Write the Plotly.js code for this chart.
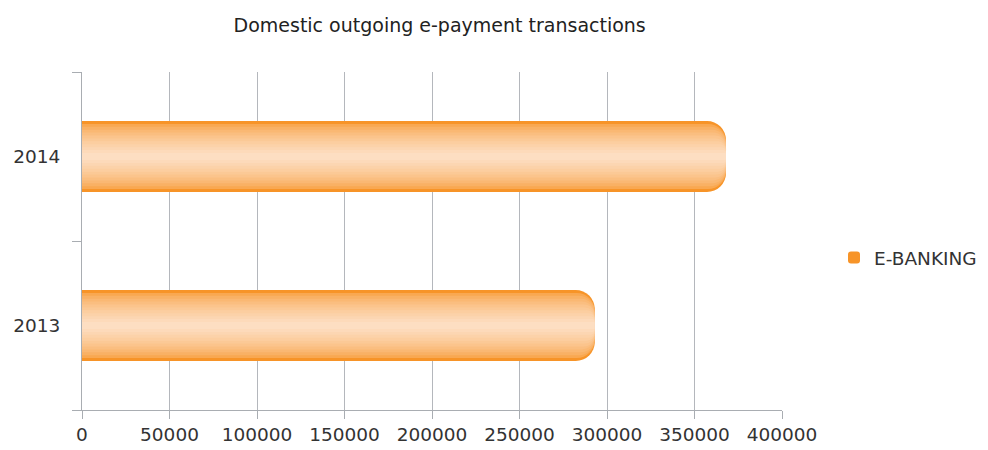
<!DOCTYPE html>
<html>
<head>
<meta charset="utf-8">
<script src="https://cdn.plot.ly/plotly-3.0.1.min.js"></script>
<style>html,body{margin:0;padding:0;background:#fff;}#chart{width:988px;height:450px;}</style>
</head>
<body>
<div id="chart"></div>
<script>
// Data
var categories = ['2013', '2014'];
var seriesName = 'E-BANKING';
var values = [293000, 368000];
var xTickValues = [0, 50000, 100000, 150000, 200000, 250000, 300000, 350000, 400000];
var xTickLabels = ['0', '50000', '100000', '150000', '200000', '250000', '300000', '350000', '400000'];

// Style: layered bands to imitate the vertical gradient of the bars
var edgeColor = [247, 148, 40];
var midColor = [253, 222, 194];
var nLayers = 12;
var outerWidth = 0.42;

function mix(a, b, t) {
  return 'rgb(' + a.map(function (v, i) { return Math.round(v + (b[i] - v) * t); }).join(',') + ')';
}

var traces = [];
for (var i = 0; i < nLayers; i++) {
  var t = i / (nLayers - 1);
  var w = outerWidth * (1 - 0.9 * t);
  var c = mix(edgeColor, midColor, Math.pow(t, 0.55));
  traces.push({
    type: 'bar',
    orientation: 'h',
    y: categories,
    x: values,
    name: seriesName,
    width: w,
    showlegend: i === 0,
    hoverinfo: 'skip',
    marker: { color: c, cornerradius: '28%', line: { width: 0 } }
  });
}

var font = "'DejaVu Sans', 'Open Sans', sans-serif";
var layout = {
  width: 988,
  height: 450,
  barmode: 'overlay',
  paper_bgcolor: '#ffffff',
  plot_bgcolor: '#ffffff',
  margin: { l: 82, r: 206, t: 72, b: 40, pad: 0, autoexpand: false },
  title: {
    text: 'Domestic outgoing e-payment transactions',
    font: { family: font, size: 19, color: '#222222' },
    x: 0.445, xanchor: 'center', xref: 'container',
    y: 0.944, yanchor: 'middle', yref: 'container'
  },
  xaxis: {
    range: [0, 400000],
    tickvals: xTickValues,
    ticktext: xTickLabels,
    showgrid: true,
    gridcolor: '#B4B7BC',
    gridwidth: 1,
    zeroline: false,
    showline: true,
    linecolor: '#A9ADB2',
    linewidth: 1,
    ticks: 'outside',
    ticklen: 8,
    tickcolor: '#A9ADB2',
    tickfont: { family: font, size: 18.5, color: '#333333' },
    automargin: false,
    fixedrange: true
  },
  yaxis: {
    type: 'category',
    categoryorder: 'array',
    categoryarray: categories,
    range: [-0.5, 1.5],
    showgrid: false,
    zeroline: false,
    showline: true,
    linecolor: '#A9ADB2',
    linewidth: 1,
    ticks: 'outside',
    tickson: 'boundaries',
    ticklen: 9,
    ticklabelstandoff: 17,
    tickcolor: '#A9ADB2',
    tickfont: { family: font, size: 18.5, color: '#333333' },
    automargin: false,
    fixedrange: true
  },
  showlegend: true,
  legend: {
    xref: 'container', x: 834 / 988, xanchor: 'left',
    y: 0.45, yanchor: 'middle',
    font: { family: font, size: 18.5, color: '#333333' },
    bgcolor: 'rgba(0,0,0,0)',
    itemwidth: 30
  }
};

Plotly.newPlot('chart', traces, layout, { displayModeBar: false, staticPlot: true });
</script>
</body>
</html>
